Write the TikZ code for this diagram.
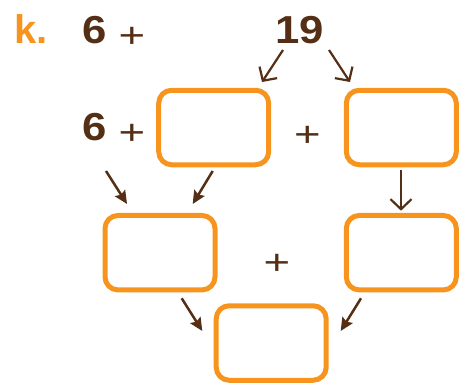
\documentclass[tikz,border=0pt]{standalone}
\usepackage{fontspec}
\setmainfont{Liberation Sans}
\usetikzlibrary{arrows.meta}
\definecolor{brn}{RGB}{84,47,22}
\definecolor{org}{RGB}{247,148,29}
\tikzset{
  numtxt/.style={font=\bfseries\fontsize{39}{39}\selectfont, text=brn, inner sep=0pt, anchor=base, xscale=1.12},
  plustxt/.style={font=\fontsize{35}{35}\selectfont, text=brn, inner sep=0pt, anchor=base, xscale=1.3},
  labtxt/.style={font=\bfseries\fontsize{40}{40}\selectfont, text=org, inner sep=0pt, anchor=base},
  answerbox/.style={draw=org, line width=5pt, rounded corners=13pt, minimum width=110pt, minimum height=74.5pt, inner sep=0pt},
  openarr/.style={draw=brn, line width=2.2pt, -{Straight Barb[length=10pt,width=21pt,line width=2.2pt]}},
  fillarr/.style={draw=brn, line width=2.5pt, -{Stealth[length=13pt,width=12pt,inset=2pt]}},
}
\begin{document}
\begin{tikzpicture}[x=1pt,y=-1pt]
\useasboundingbox (0,0) rectangle (468,383);
\node[labtxt] (k) at (31,43) {k.};
\node[numtxt] (six1) at (94.5,43) {6};
\node[plustxt] (p1) at (132,47) {+};
\node[numtxt] (nineteen) at (300,43) {19};
\node[numtxt] (six2) at (94.5,140) {6};
\node[plustxt] (p2) at (132,144) {+};
\node[plustxt] (p3) at (307.5,146) {+};
\node[plustxt] (p4) at (277,274) {+};
\node[answerbox] (A) at (213.7,127.5) {};
\node[answerbox] (B) at (401.3,127.5) {};
\node[answerbox] (C) at (160,252.7) {};
\node[answerbox] (D) at (401.3,252.7) {};
\node[answerbox] (E) at (271.2,343) {};
\coordinate (a1s) at (283,50); \coordinate (a1e) at (262,82);
\coordinate (a2s) at (329,50); \coordinate (a2e) at (350,82);
\coordinate (a3s) at (106,171); \coordinate (a3e) at (127,204);
\coordinate (a4s) at (212.7,171); \coordinate (a4e) at (192.7,204);
\coordinate (a5s) at (401,170); \coordinate (a5e) at (401,210.7);
\coordinate (a6s) at (181.7,298.3); \coordinate (a6e) at (202.3,331);
\coordinate (a7s) at (361,298.3); \coordinate (a7e) at (340.7,331);
\draw[openarr] (a1s) -- (a1e);
\draw[openarr] (a2s) -- (a2e);
\draw[openarr] (a5s) -- (a5e);
\draw[fillarr] (a3s) -- (a3e);
\draw[fillarr] (a4s) -- (a4e);
\draw[fillarr] (a6s) -- (a6e);
\draw[fillarr] (a7s) -- (a7e);
\end{tikzpicture}
\end{document}
